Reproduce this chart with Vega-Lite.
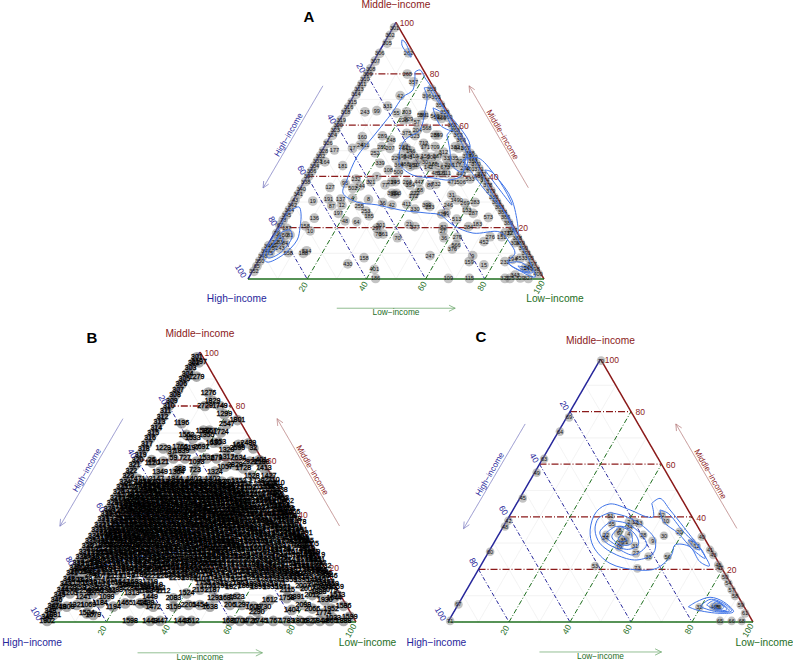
{"$schema":"https://vega.github.io/schema/vega-lite/v6.json","padding":0,"background":"white","spacing":0,"bounds":"flush",
"config":{"view":{"stroke":null},"concat":{"spacing":0}},
"datasets":{
"grid":[
{"g":"m1","k":"minor","x":5,"y":10},{"g":"m1","k":"minor","x":95,"y":10},{"g":"m2","k":"minor","x":15,"y":30},{"g":"m2","k":"minor","x":85,"y":30},{"g":"m3","k":"minor","x":25,"y":50},{"g":"m3","k":"minor","x":75,"y":50},{"g":"m4","k":"minor","x":35,"y":70},{"g":"m4","k":"minor","x":65,"y":70},{"g":"m5","k":"minor","x":45,"y":90},{"g":"m5","k":"minor","x":55,"y":90},
{"g":"l1","k":"minor","x":10,"y":0},{"g":"l1","k":"minor","x":55,"y":90},{"g":"l2","k":"minor","x":30,"y":0},{"g":"l2","k":"minor","x":65,"y":70},{"g":"l3","k":"minor","x":50,"y":0},{"g":"l3","k":"minor","x":75,"y":50},{"g":"l4","k":"minor","x":70,"y":0},{"g":"l4","k":"minor","x":85,"y":30},{"g":"l5","k":"minor","x":90,"y":0},{"g":"l5","k":"minor","x":95,"y":10},
{"g":"h1","k":"minor","x":45,"y":90},{"g":"h1","k":"minor","x":90,"y":0},{"g":"h2","k":"minor","x":35,"y":70},{"g":"h2","k":"minor","x":70,"y":0},{"g":"h3","k":"minor","x":25,"y":50},{"g":"h3","k":"minor","x":50,"y":0},{"g":"h4","k":"minor","x":15,"y":30},{"g":"h4","k":"minor","x":30,"y":0},{"g":"h5","k":"minor","x":5,"y":10},{"g":"h5","k":"minor","x":10,"y":0},
{"g":"M1","k":"mid","x":10,"y":20},{"g":"M1","k":"mid","x":90,"y":20},{"g":"M2","k":"mid","x":20,"y":40},{"g":"M2","k":"mid","x":80,"y":40},{"g":"M3","k":"mid","x":30,"y":60},{"g":"M3","k":"mid","x":70,"y":60},{"g":"M4","k":"mid","x":40,"y":80},{"g":"M4","k":"mid","x":60,"y":80},
{"g":"H1","k":"high","x":40,"y":80},{"g":"H1","k":"high","x":80,"y":0},{"g":"H2","k":"high","x":30,"y":60},{"g":"H2","k":"high","x":60,"y":0},{"g":"H3","k":"high","x":20,"y":40},{"g":"H3","k":"high","x":40,"y":0},{"g":"H4","k":"high","x":10,"y":20},{"g":"H4","k":"high","x":20,"y":0},
{"g":"L1","k":"low","x":20,"y":0},{"g":"L1","k":"low","x":60,"y":80},{"g":"L2","k":"low","x":40,"y":0},{"g":"L2","k":"low","x":70,"y":60},{"g":"L3","k":"low","x":60,"y":0},{"g":"L3","k":"low","x":80,"y":40},{"g":"L4","k":"low","x":80,"y":0},{"g":"L4","k":"low","x":90,"y":20},
{"g":"E1","k":"edgeHigh","x":0,"y":0},{"g":"E1","k":"edgeHigh","x":50,"y":100},{"g":"E2","k":"edgeMid","x":50,"y":100},{"g":"E2","k":"edgeMid","x":100,"y":0},{"g":"E3","k":"edgeLow","x":0,"y":0},{"g":"E3","k":"edgeLow","x":100,"y":0},
{"g":"A1","k":"arrowHigh","x":25.3,"y":75.3},{"g":"A1","k":"arrowHigh","x":5.1,"y":35.5},{"g":"A1","k":"arrowHigh","x":7,"y":37},{"g":"A1b","k":"arrowHigh","x":5.1,"y":35.5},{"g":"A1b","k":"arrowHigh","x":5.3,"y":38.2},
{"g":"A2","k":"arrowMid","x":94.7,"y":35.6},{"g":"A2","k":"arrowMid","x":74.7,"y":75.3},{"g":"A2","k":"arrowMid","x":76.6,"y":73.8},{"g":"A2b","k":"arrowMid","x":74.7,"y":75.3},{"g":"A2b","k":"arrowMid","x":74.9,"y":72.6},
{"g":"A3","k":"arrowLow","x":30,"y":-11.4},{"g":"A3","k":"arrowLow","x":70,"y":-11.4},{"g":"A3","k":"arrowLow","x":67.9,"y":-10.2},{"g":"A3b","k":"arrowLow","x":70,"y":-11.4},{"g":"A3b","k":"arrowLow","x":67.9,"y":-12.6}
],
"frame":[
{"x":53.7,"y":99.8,"t":"100","k":"tickMid"},{"x":63,"y":79.9,"t":"80","k":"tickMid"},{"x":73,"y":59.6,"t":"60","k":"tickMid"},{"x":83,"y":39.7,"t":"40","k":"tickMid"},{"x":93,"y":19.9,"t":"20","k":"tickMid"},
{"x":38.2,"y":82.3,"t":"20","k":"tickHigh"},{"x":28.3,"y":62.4,"t":"40","k":"tickHigh"},{"x":18.2,"y":42.5,"t":"60","k":"tickHigh"},{"x":8.4,"y":22.6,"t":"80","k":"tickHigh"},{"x":-2.4,"y":3.1,"t":"100","k":"tickHigh"},
{"x":18.6,"y":-3.1,"t":"20","k":"tickLow"},{"x":38.9,"y":-2.8,"t":"40","k":"tickLow"},{"x":58.8,"y":-2.8,"t":"60","k":"tickLow"},{"x":79,"y":-2.8,"t":"80","k":"tickLow"},{"x":98.3,"y":-3.2,"t":"100","k":"tickLow"},
{"x":50,"y":106.8,"t":"Middle−income","k":"cornerMid"},{"x":-3.8,"y":-7.8,"t":"High−income","k":"cornerHigh"},{"x":103.7,"y":-7.8,"t":"Low−income","k":"cornerLow"},
{"x":13.9,"y":56.1,"t":"High−income","k":"arrowHigh"},{"x":85.8,"y":56.1,"t":"Middle−income","k":"arrowMid"},{"x":50,"y":-13.3,"t":"Low−income","k":"arrowLow"}
],
"contA":[
{"g":"a1","x":56.4,"y":80.7},{"g":"a1","x":55.7,"y":73.7},{"g":"a1","x":52.4,"y":71},{"g":"a1","x":48.6,"y":64.7},{"g":"a1","x":42.2,"y":55.4},{"g":"a1","x":36.8,"y":47.6},{"g":"a1","x":33.4,"y":38.6},{"g":"a1","x":32.1,"y":33.5},{"g":"a1","x":36.8,"y":30},{"g":"a1","x":43.6,"y":28.9},{"g":"a1","x":51.4,"y":26.9},{"g":"a1","x":60.5,"y":25.7},{"g":"a1","x":64.9,"y":25},{"g":"a1","x":69.3,"y":21},{"g":"a1","x":76,"y":17.9},{"g":"a1","x":85.1,"y":18.3},{"g":"a1","x":88.5,"y":14},{"g":"a1","x":90.2,"y":10.1},{"g":"a1","x":87.8,"y":6.6},{"g":"a1","x":92.6,"y":2.7},{"g":"a1","x":97,"y":0.8},{"g":"a1","x":95.3,"y":6.6},{"g":"a1","x":91.2,"y":15.2},{"g":"a1","x":87.2,"y":25},{"g":"a1","x":81.8,"y":34.7},{"g":"a1","x":75,"y":50.3},{"g":"a1","x":68.2,"y":62.8},{"g":"a1","x":61.5,"y":75.6},{"g":"a1","x":59.8,"y":78.4},{"g":"a1","x":58.1,"y":81.5},{"g":"a1","x":56.4,"y":80.7},
{"g":"a2","x":59.5,"y":74.5},{"g":"a2","x":60.5,"y":71},{"g":"a2","x":59.8,"y":65.9},{"g":"a2","x":58.1,"y":58.1},{"g":"a2","x":53,"y":54.2},{"g":"a2","x":51,"y":48.3},{"g":"a2","x":51.4,"y":44.4},{"g":"a2","x":55.7,"y":40.5},{"g":"a2","x":62.5,"y":39.4},{"g":"a2","x":68.2,"y":38.6},{"g":"a2","x":72.3,"y":40.5},{"g":"a2","x":73.3,"y":46.4},{"g":"a2","x":75,"y":52.2},{"g":"a2","x":66.6,"y":65.9},{"g":"a2","x":63.2,"y":70.6},{"g":"a2","x":60.8,"y":74.5},{"g":"a2","x":59.5,"y":74.5},
{"g":"a3","x":62.5,"y":66.7},{"g":"a3","x":64.9,"y":60},{"g":"a3","x":68.9,"y":58},{"g":"a3","x":66.6,"y":63.9},{"g":"a3","x":62.5,"y":66.7},
{"g":"a4","x":67.2,"y":56.1},{"g":"a4","x":68.2,"y":50.3},{"g":"a4","x":68.9,"y":44.4},{"g":"a4","x":72.3,"y":41.7},{"g":"a4","x":74.3,"y":46.4},{"g":"a4","x":71.6,"y":54.2},{"g":"a4","x":68.9,"y":58},{"g":"a4","x":67.2,"y":56.1},
{"g":"a5","x":72.6,"y":46.4},{"g":"a5","x":80,"y":34.7},{"g":"a5","x":87.5,"y":25},{"g":"a5","x":91.2,"y":17.2},{"g":"a5","x":89.2,"y":30.8},{"g":"a5","x":83.4,"y":40.5},{"g":"a5","x":77.7,"y":47.2},{"g":"a5","x":72.6,"y":46.4},
{"g":"a6","x":80,"y":42.5},{"g":"a6","x":85.1,"y":34.7},{"g":"a6","x":89.2,"y":28.8},{"g":"a6","x":86.8,"y":34.7},{"g":"a6","x":82.4,"y":41.7},{"g":"a6","x":80,"y":42.5},
{"g":"a7","x":52,"y":93.2},{"g":"a7","x":53,"y":92.4},{"g":"a7","x":55.1,"y":86.5},{"g":"a7","x":53.7,"y":88.1},{"g":"a7","x":52,"y":91.2},{"g":"a7","x":52,"y":93.2},
{"g":"a8","x":13.2,"y":25.7},{"g":"a8","x":17.2,"y":28.1},{"g":"a8","x":17.9,"y":25.7},{"g":"a8","x":17.6,"y":20.3},{"g":"a8","x":16.6,"y":15.2},{"g":"a8","x":11.8,"y":9.4},{"g":"a8","x":6.4,"y":6.6},{"g":"a8","x":5.1,"y":8.6},{"g":"a8","x":6.4,"y":12.5},{"g":"a8","x":10.8,"y":20.3},{"g":"a8","x":13.2,"y":25.7},
{"g":"a9","x":11.5,"y":18.3},{"g":"a9","x":14.2,"y":19.1},{"g":"a9","x":14.9,"y":16.4},{"g":"a9","x":10.8,"y":10.1},{"g":"a9","x":6.8,"y":8.2},{"g":"a9","x":6.1,"y":9.4},{"g":"a9","x":8.1,"y":13.3},{"g":"a9","x":11.5,"y":18.3},
{"g":"a10","x":10.8,"y":16.8},{"g":"a10","x":11.8,"y":15.2},{"g":"a10","x":9.1,"y":11.3},{"g":"a10","x":7.4,"y":9.4},{"g":"a10","x":6.8,"y":10.5},{"g":"a10","x":9.1,"y":14.4},{"g":"a10","x":10.8,"y":16.8},
{"g":"a11","x":87.8,"y":6.2},{"g":"a11","x":91.9,"y":6.6},{"g":"a11","x":96.3,"y":2.7},{"g":"a11","x":94.6,"y":2.3},{"g":"a11","x":90.2,"y":4.3},{"g":"a11","x":87.8,"y":6.2},
{"g":"a12","x":91.2,"y":5.1},{"g":"a12","x":93.6,"y":4.3},{"g":"a12","x":95.3,"y":2.7},{"g":"a12","x":92.6,"y":3.5},{"g":"a12","x":91.2,"y":5.1}
],
"contB":[
{"g":"b1","x":16.3,"y":19.3},{"g":"b1","x":21.2,"y":21.7},{"g":"b1","x":30.8,"y":24.2},{"g":"b1","x":40.4,"y":25.4},{"g":"b1","x":46.8,"y":27.9},{"g":"b1","x":48.4,"y":32.2},{"g":"b1","x":44.7,"y":35.3},{"g":"b1","x":39.3,"y":37.8},{"g":"b1","x":32.9,"y":40.3},{"g":"b1","x":26.5,"y":38.4},{"g":"b1","x":20.1,"y":32.8},{"g":"b1","x":16.9,"y":25.4},{"g":"b1","x":16.3,"y":19.3}
],
"contC":[
{"g":"c1","x":66.8,"y":45.1},{"g":"c1","x":69.5,"y":47},{"g":"c1","x":72.8,"y":42.6},{"g":"c1","x":77.2,"y":36.2},{"g":"c1","x":83.7,"y":26.1},{"g":"c1","x":85.7,"y":21.3},{"g":"c1","x":82.6,"y":22.9},{"g":"c1","x":79.3,"y":28.6},{"g":"c1","x":74.4,"y":29.3},{"g":"c1","x":73.3,"y":25.5},{"g":"c1","x":68.4,"y":20.4},{"g":"c1","x":61.9,"y":19.8},{"g":"c1","x":53.1,"y":22.3},{"g":"c1","x":47.7,"y":28.6},{"g":"c1","x":46.6,"y":35},{"g":"c1","x":48.7,"y":42},{"g":"c1","x":53.1,"y":44.9},{"g":"c1","x":59.7,"y":42.6},{"g":"c1","x":65.1,"y":40},{"g":"c1","x":67.3,"y":40},{"g":"c1","x":66.8,"y":45.1},
{"g":"c2","x":53.1,"y":41.6},{"g":"c2","x":58.6,"y":40},{"g":"c2","x":64.1,"y":36.3},{"g":"c2","x":67.9,"y":31.2},{"g":"c2","x":67.3,"y":26.1},{"g":"c2","x":61.9,"y":23.6},{"g":"c2","x":55.3,"y":25.5},{"g":"c2","x":49.8,"y":29.9},{"g":"c2","x":48.2,"y":35},{"g":"c2","x":49.3,"y":39.4},{"g":"c2","x":53.1,"y":41.6},
{"g":"c3","x":53.7,"y":38.5},{"g":"c3","x":58.6,"y":37.5},{"g":"c3","x":63,"y":33.7},{"g":"c3","x":65.1,"y":29.3},{"g":"c3","x":60.8,"y":25.5},{"g":"c3","x":56.4,"y":27.4},{"g":"c3","x":51.5,"y":30.5},{"g":"c3","x":49.8,"y":34.3},{"g":"c3","x":53.7,"y":38.5},
{"g":"c4","x":54.8,"y":36.3},{"g":"c4","x":58.6,"y":36},{"g":"c4","x":61.9,"y":32.4},{"g":"c4","x":62.4,"y":29.3},{"g":"c4","x":58.6,"y":27.6},{"g":"c4","x":54.2,"y":29.9},{"g":"c4","x":51.5,"y":33.1},{"g":"c4","x":54.8,"y":36.3},
{"g":"c5","x":56.4,"y":36.3},{"g":"c5","x":59.7,"y":34.4},{"g":"c5","x":60.2,"y":29.9},{"g":"c5","x":56.9,"y":29.3},{"g":"c5","x":53.7,"y":32.4},{"g":"c5","x":56.4,"y":36.3},
{"g":"c6","x":56.9,"y":33.1},{"g":"c6","x":58.6,"y":31.2},{"g":"c6","x":56.9,"y":30.5},{"g":"c6","x":55.8,"y":31.8},{"g":"c6","x":56.9,"y":33.1},
{"g":"c7","x":69.5,"y":42.6},{"g":"c7","x":72.2,"y":41.3},{"g":"c7","x":77.2,"y":34.3},{"g":"c7","x":83.2,"y":27.4},{"g":"c7","x":84.3,"y":24.2},{"g":"c7","x":80.4,"y":27.4},{"g":"c7","x":75.5,"y":33.7},{"g":"c7","x":70.6,"y":38.2},{"g":"c7","x":69.5,"y":42.6},
{"g":"c8","x":78.8,"y":31.2},{"g":"c8","x":81.5,"y":29.9},{"g":"c8","x":82.6,"y":27.4},{"g":"c8","x":80.4,"y":28.6},{"g":"c8","x":78.8,"y":31.2},
{"g":"c9","x":78.8,"y":5.8},{"g":"c9","x":81.5,"y":7.7},{"g":"c9","x":85.9,"y":9.4},{"g":"c9","x":90.3,"y":7.7},{"g":"c9","x":93.6,"y":3.9},{"g":"c9","x":89.2,"y":3.3},{"g":"c9","x":81.5,"y":4.6},{"g":"c9","x":78.8,"y":5.8},
{"g":"c10","x":82.6,"y":5.8},{"g":"c10","x":85.9,"y":8.6},{"g":"c10","x":90.3,"y":7.1},{"g":"c10","x":93,"y":4.2},{"g":"c10","x":88.1,"y":3.9},{"g":"c10","x":82.6,"y":5.8},
{"g":"c11","x":84.8,"y":6.5},{"g":"c11","x":87,"y":8.1},{"g":"c11","x":90.3,"y":6.5},{"g":"c11","x":92.2,"y":4.3},{"g":"c11","x":88.1,"y":4.3},{"g":"c11","x":84.8,"y":6.5},
{"g":"c12","x":86.5,"y":6.5},{"g":"c12","x":88.1,"y":7.7},{"g":"c12","x":90.8,"y":5.8},{"g":"c12","x":91.4,"y":4.6},{"g":"c12","x":88.1,"y":4.8},{"g":"c12","x":86.5,"y":6.5},
{"g":"c13","x":87.5,"y":6.3},{"g":"c13","x":89,"y":7},{"g":"c13","x":90.4,"y":5.6},{"g":"c13","x":89.8,"y":4.9},{"g":"c13","x":88.1,"y":5.1},{"g":"c13","x":87.5,"y":6.3}
],
"ptsC":[
{"x":53.3,"y":40.3,"t":51},{"x":53.7,"y":37.3,"t":55},{"x":51.8,"y":33.1,"t":22},{"x":51.5,"y":31.8,"t":24},{"x":56.4,"y":35,"t":8},{"x":59.3,"y":33.3,"t":4},{"x":55.8,"y":33.7,"t":6},{"x":57,"y":31.2,"t":3},{"x":58,"y":31.2,"t":5},{"x":56.6,"y":29.9,"t":29},{"x":58.6,"y":30.5,"t":1},{"x":56.1,"y":28.4,"t":19},{"x":61.3,"y":28.9,"t":31},{"x":61.6,"y":26.1,"t":27},{"x":65.7,"y":24.9,"t":38},{"x":64,"y":33.1,"t":28},{"x":67.1,"y":30.9,"t":9},{"x":70.8,"y":32.8,"t":30},{"x":62.7,"y":37.5,"t":13},{"x":59.3,"y":38.1,"t":2},{"x":59.5,"y":36.2,"t":34},{"x":61.3,"y":38.1,"t":12},{"x":70.1,"y":40.7,"t":52},{"x":71.5,"y":38.5,"t":10},{"x":75.9,"y":34.3,"t":20},{"x":79.9,"y":30.2,"t":7},{"x":81.5,"y":28.9,"t":12},{"x":72,"y":24.9,"t":56},{"x":48.2,"y":21.3,"t":53},{"x":62.1,"y":20.4,"t":73},
{"x":13.8,"y":26.7,"t":60},{"x":3.4,"y":6.7,"t":67},{"x":19.8,"y":38.5,"t":42},{"x":18.7,"y":36.3,"t":48},{"x":24.5,"y":47,"t":45},{"x":50.2,"y":99.4,"t":70},{"x":39.7,"y":77.8,"t":69},{"x":36.7,"y":72.4,"t":64},{"x":31.5,"y":62,"t":63},{"x":29.1,"y":56.8,"t":49},
{"x":83.2,"y":32.4,"t":40},{"x":85.9,"y":27.4,"t":41},{"x":87,"y":25.5,"t":43},{"x":88.6,"y":21.7,"t":46},{"x":89.2,"y":20.4,"t":47},{"x":90.8,"y":17.2,"t":50},{"x":91.9,"y":14.7,"t":54},{"x":93,"y":12.2,"t":57},{"x":94.1,"y":9.9,"t":58},{"x":96,"y":6.5,"t":59},{"x":97.4,"y":3.3,"t":61},
{"x":89.2,"y":0.4,"t":65},{"x":93,"y":0.4,"t":66},{"x":96.3,"y":0.4,"t":68},{"x":0.7,"y":0.4,"t":71},{"x":87,"y":5.8,"t":44},{"x":88.1,"y":5.8,"t":35},{"x":88.6,"y":5.8,"t":36},{"x":82.4,"y":5.6,"t":32}
],
"ptsA":[
{"x":54.2,"y":88.2,"t":262},{"x":53.8,"y":79.9,"t":268},{"x":55.9,"y":76.9,"t":357},{"x":51.4,"y":71.5,"t":42},{"x":60.4,"y":71.5,"t":396},{"x":39.5,"y":65.2,"t":243},{"x":43.5,"y":65.6,"t":99},{"x":47.2,"y":67.4,"t":331},{"x":53.6,"y":65.2,"t":303},{"x":50.2,"y":64.8,"t":55},{"x":52.5,"y":62,"t":228},{"x":54.2,"y":62.3,"t":229},{"x":57,"y":61.1,"t":57},{"x":58.7,"y":63.9,"t":588},{"x":59.5,"y":63.9,"t":561},{"x":63.2,"y":63.5,"t":540},{"x":64.3,"y":63.3,"t":512},{"x":65.4,"y":62.6,"t":466},{"x":60.4,"y":58.7,"t":568},{"x":57.2,"y":58.1,"t":204},{"x":53.6,"y":56.8,"t":375},{"x":56.4,"y":55.9,"t":523},{"x":63.2,"y":56.1,"t":285},{"x":64.3,"y":56.1,"t":349},{"x":38.6,"y":55.5,"t":160},{"x":45.4,"y":55.8,"t":289},{"x":48.3,"y":54.2,"t":248},{"x":29.2,"y":50.3,"t":177},{"x":35.3,"y":50.9,"t":17},{"x":37.9,"y":52.2,"t":24},{"x":39.5,"y":52.2,"t":411},{"x":42.9,"y":49.2,"t":252},{"x":45.2,"y":51.6,"t":281},{"x":48,"y":50.9,"t":207},{"x":52.5,"y":51.6,"t":222},{"x":53.6,"y":51,"t":511},{"x":55,"y":50,"t":146},{"x":59.3,"y":52.9,"t":712},{"x":59.9,"y":51.6,"t":171},{"x":63.2,"y":51.6,"t":709},{"x":70,"y":51.6,"t":382},{"x":71.2,"y":51,"t":441},{"x":67.1,"y":47,"t":33},{"x":69.4,"y":47,"t":335},{"x":26,"y":45.7,"t":164},{"x":32,"y":44.2,"t":181},{"x":44.6,"y":45.1,"t":339},{"x":47.4,"y":42.5,"t":108},{"x":50.8,"y":41.8,"t":500},{"x":54.8,"y":43.8,"t":5},{"x":55.9,"y":44.4,"t":351},{"x":59.8,"y":45.7,"t":30},{"x":64.3,"y":44.4,"t":1},{"x":66.6,"y":43.8,"t":673},{"x":63.6,"y":41.4,"t":481},{"x":65.4,"y":41.2,"t":521},{"x":67,"y":41.2,"t":611},{"x":70.5,"y":44.4,"t":117},{"x":73.3,"y":43.1,"t":278},
{"x":50,"y":47,"t":224},{"x":52,"y":48,"t":298},{"x":54,"y":47.5,"t":343},{"x":56,"y":48,"t":410},{"x":58,"y":47,"t":74},{"x":60,"y":48,"t":156},{"x":62,"y":47.5,"t":209},{"x":64,"y":48,"t":267},{"x":66,"y":49.5,"t":312},{"x":51,"y":44.5,"t":364},{"x":53,"y":45,"t":488},{"x":57,"y":44.6,"t":97},{"x":61,"y":43.6,"t":142},{"x":62.5,"y":44.8,"t":188},{"x":68,"y":44.5,"t":236},{"x":72,"y":46,"t":292},{"x":74,"y":48,"t":317},{"x":76,"y":46,"t":358},{"x":75,"y":43,"t":401},{"x":72,"y":41,"t":442},{"x":69,"y":38,"t":471},{"x":72,"y":38,"t":506},{"x":75,"y":39,"t":533},{"x":78,"y":40,"t":555},
{"x":27.7,"y":35.7,"t":127},{"x":32.8,"y":37.3,"t":95},{"x":35.4,"y":35.3,"t":502},{"x":36.5,"y":38.9,"t":232},{"x":37.9,"y":36.3,"t":244},{"x":41.5,"y":37.9,"t":321},{"x":43.5,"y":39.9,"t":7},{"x":46.3,"y":36.7,"t":77},{"x":48.6,"y":37.9,"t":239},{"x":49.8,"y":38,"t":245},{"x":54.8,"y":36.6,"t":354},{"x":53.8,"y":37.8,"t":264},{"x":57.8,"y":37.9,"t":447},{"x":61.5,"y":36.6,"t":87},{"x":63.5,"y":37,"t":732},{"x":58.1,"y":34.7,"t":58},{"x":56.4,"y":33.4,"t":272},{"x":55.9,"y":32.4,"t":172},{"x":48.6,"y":33.4,"t":392},{"x":50.2,"y":33.4,"t":393},{"x":49.6,"y":33,"t":394},{"x":68.8,"y":32.7,"t":31},{"x":70.5,"y":30.8,"t":1490},{"x":67.7,"y":28.8,"t":246},{"x":73.3,"y":29.5,"t":269},{"x":76.7,"y":29.9,"t":283},{"x":73.9,"y":26.9,"t":133},{"x":76.1,"y":25.6,"t":287},{"x":66.9,"y":25.8,"t":46},{"x":65.4,"y":25.3,"t":429},{"x":70.5,"y":23.3,"t":513},{"x":74.5,"y":20.4,"t":284},{"x":77.5,"y":21.4,"t":183},{"x":81.2,"y":24,"t":573},{"x":53.6,"y":29.1,"t":411},{"x":60.4,"y":28.8,"t":399},{"x":61.4,"y":28.2,"t":253},{"x":56.4,"y":27.2,"t":330},{"x":48.6,"y":28.8,"t":42},{"x":45.5,"y":29.8,"t":36},{"x":40.7,"y":31,"t":8},{"x":35.3,"y":31.5,"t":4},{"x":31.3,"y":31.1,"t":137},{"x":31.7,"y":28.8,"t":12},{"x":28.3,"y":28.6,"t":87},{"x":27.2,"y":31.2,"t":191},{"x":21.9,"y":30.4,"t":19},{"x":22.4,"y":23.7,"t":136},{"x":30.5,"y":25.6,"t":197},{"x":32.8,"y":22.7,"t":48},{"x":36.7,"y":22.4,"t":64},{"x":37.6,"y":28.5,"t":255},{"x":39.8,"y":26.5,"t":253},{"x":40.9,"y":24.6,"t":185},{"x":44.8,"y":21,"t":301},{"x":43.5,"y":19.8,"t":297},{"x":44,"y":17.5,"t":76},{"x":45.7,"y":17.5,"t":361},{"x":54.4,"y":21.3,"t":21},{"x":56.4,"y":20.4,"t":377},{"x":66,"y":20.4,"t":82},{"x":65.8,"y":18.7,"t":27},{"x":50.5,"y":16.1,"t":70},{"x":66.2,"y":16.1,"t":36},{"x":70.7,"y":16.2,"t":276},{"x":70.3,"y":13.3,"t":566},{"x":69,"y":11.7,"t":376},{"x":75.9,"y":9.1,"t":9},{"x":74.7,"y":6.8,"t":159},{"x":79.7,"y":5.5,"t":15},{"x":61.5,"y":9.1,"t":247},{"x":39.2,"y":8.3,"t":158},{"x":33.7,"y":5.9,"t":430},{"x":42.7,"y":3.8,"t":401},{"x":43.1,"y":0.2,"t":186},{"x":67.7,"y":0.2,"t":109},{"x":74.8,"y":0.2,"t":115},{"x":86.8,"y":0.2,"t":322},{"x":88.5,"y":0.2,"t":325},{"x":94.7,"y":0.2,"t":327},{"x":90.2,"y":1.5,"t":343},{"x":92,"y":0.4,"t":329},{"x":81.8,"y":16.5,"t":276},{"x":85.7,"y":16.5,"t":151},{"x":79.7,"y":14.6,"t":452},{"x":86.8,"y":18,"t":373},{"x":88.5,"y":18,"t":12},{"x":90.2,"y":14.2,"t":304},{"x":86.8,"y":6.8,"t":232},{"x":89.4,"y":7.7,"t":194},{"x":91.9,"y":8,"t":453},{"x":93.6,"y":4.2,"t":254},{"x":94.7,"y":4.2,"t":255},{"x":19.8,"y":11,"t":534},{"x":18.7,"y":10,"t":188},{"x":13.6,"y":10.3,"t":558},{"x":19.3,"y":20.7,"t":158},{"x":21,"y":18.8,"t":10},{"x":15.9,"y":30.8,"t":43},{"x":3,"y":5,"t":65},{"x":13.1,"y":19.7,"t":187},{"x":10.8,"y":21,"t":67},{"x":12.5,"y":17.2,"t":50},{"x":10.3,"y":16.5,"t":71},{"x":9.1,"y":14.6,"t":72},{"x":10.8,"y":12,"t":243},{"x":8,"y":12,"t":73},{"x":7.4,"y":10,"t":75},{"x":11.9,"y":23,"t":78},{"x":9.7,"y":17.8,"t":79},{"x":14.2,"y":17.2,"t":81},{"x":10.8,"y":14.6,"t":83},{"x":12.5,"y":13.9,"t":84},{"x":8.6,"y":13.3,"t":85},
{"x":49.5,"y":98,"t":301},{"x":48,"y":95,"t":302},{"x":47,"y":92,"t":305},{"x":44.5,"y":88,"t":306},{"x":43,"y":85,"t":307},{"x":41.5,"y":82,"t":308},{"x":40.5,"y":80,"t":309},{"x":39.5,"y":78,"t":310},{"x":38.5,"y":76,"t":311},{"x":37.5,"y":74,"t":313},{"x":36.5,"y":72,"t":314},{"x":35.2,"y":69,"t":315},{"x":34,"y":67,"t":316},{"x":33,"y":65,"t":318},{"x":31.5,"y":62,"t":319},{"x":30.5,"y":60,"t":320},{"x":29.5,"y":58,"t":323},{"x":28.5,"y":56,"t":324},{"x":27,"y":53,"t":326},{"x":25.5,"y":50,"t":328},{"x":24.5,"y":48,"t":332},{"x":23.5,"y":46,"t":333},{"x":22.5,"y":44,"t":334},{"x":21.5,"y":42,"t":336},{"x":20.5,"y":40,"t":337},{"x":19.5,"y":38,"t":338},{"x":18,"y":35,"t":340},{"x":17,"y":33,"t":341},{"x":15,"y":29,"t":342},{"x":14,"y":27,"t":344},{"x":13,"y":25,"t":345},{"x":7,"y":13,"t":346},{"x":6,"y":11,"t":347},{"x":5,"y":9,"t":348},{"x":4,"y":7,"t":350},{"x":2,"y":3,"t":352},
{"x":62,"y":74,"t":353},{"x":63.5,"y":71,"t":355},{"x":65,"y":68,"t":356},{"x":66.5,"y":65,"t":359},{"x":67.5,"y":63,"t":360},{"x":69,"y":60,"t":362},{"x":70,"y":58,"t":363},{"x":71,"y":56,"t":365},{"x":72,"y":54,"t":366},{"x":73.5,"y":51,"t":367},{"x":75,"y":49,"t":368},{"x":76,"y":47.5,"t":369},{"x":77,"y":45,"t":370},{"x":78,"y":43,"t":371},{"x":79,"y":41,"t":372},{"x":80,"y":38.5,"t":374},{"x":81,"y":36.5,"t":378},{"x":82,"y":34.5,"t":379},{"x":83,"y":32,"t":380},{"x":84,"y":30,"t":381},{"x":85,"y":28,"t":383},{"x":86,"y":26,"t":384},{"x":87,"y":24,"t":385},{"x":88,"y":22,"t":386},{"x":89.5,"y":19,"t":387},{"x":91,"y":16,"t":388},{"x":92,"y":14,"t":389},{"x":93,"y":12,"t":390},{"x":94,"y":10,"t":391},{"x":95,"y":8,"t":395},{"x":96,"y":6,"t":397},{"x":97,"y":4,"t":398},{"x":98,"y":2,"t":400}
],
"ptsB":[
{"x":52.7,"y":85,"t":1276},{"x":54,"y":81.9,"t":1829},{"x":51.6,"y":80,"t":2729},{"x":56.4,"y":80,"t":1749},{"x":57.8,"y":76.9,"t":1299},{"x":58.6,"y":73.3,"t":2547},{"x":62,"y":74.8,"t":1801},{"x":44.1,"y":73.6,"t":1196},{"x":48.9,"y":90.9,"t":1279},{"x":49.7,"y":96.2,"t":2197},{"x":45.7,"y":69.3,"t":1562},{"x":47.7,"y":68,"t":1533},{"x":51.1,"y":70.9,"t":1587},{"x":53,"y":70.9,"t":1567},{"x":52.1,"y":69.3,"t":1355},{"x":56.7,"y":70.2,"t":1724},{"x":54.3,"y":66.4,"t":1630},{"x":55.9,"y":66.5,"t":1653},{"x":38.2,"y":64.3,"t":1229},{"x":40.9,"y":63.1,"t":37},{"x":43.6,"y":65,"t":1766},{"x":44.1,"y":63.5,"t":1839},{"x":47.3,"y":64.3,"t":2197},{"x":50.5,"y":64.7,"t":2691},{"x":58.5,"y":63.7,"t":1329},{"x":62.3,"y":65.6,"t":161},{"x":62,"y":64.3,"t":2599},{"x":65.5,"y":66.2,"t":2489},{"x":67.1,"y":64.3,"t":32},{"x":34.5,"y":60,"t":26},{"x":34.7,"y":59,"t":1120},{"x":38.2,"y":59.4,"t":121},{"x":41.5,"y":60.6,"t":59},{"x":45.2,"y":60.6,"t":727},{"x":48.9,"y":59.4,"t":1093},{"x":52.1,"y":60.6,"t":1532},{"x":55.3,"y":60.6,"t":679},{"x":58.5,"y":61,"t":1317},{"x":62.3,"y":60.6,"t":2634},{"x":66,"y":59.4,"t":2921},{"x":69.8,"y":59.4,"t":2188},{"x":43.6,"y":56.5,"t":288},{"x":37.2,"y":55.7,"t":1349},{"x":42.5,"y":55.7,"t":1364},{"x":48.4,"y":56.3,"t":723},{"x":54.8,"y":55.7,"t":1324},{"x":58,"y":57.5,"t":1057},{"x":61.2,"y":58.1,"t":2829},{"x":63.9,"y":56.9,"t":1728},{"x":66.6,"y":54.2,"t":1528},{"x":69.8,"y":51.1,"t":1738},{"x":73,"y":52.6,"t":2210},
{"x":30,"y":53,"t":1471},{"x":33,"y":52,"t":1502},{"x":36,"y":53,"t":2147},{"x":39,"y":52,"t":1183},{"x":42,"y":53,"t":1944},{"x":45,"y":52,"t":1266},{"x":48,"y":53,"t":1402},{"x":51,"y":52,"t":1673},{"x":54,"y":53,"t":1402},{"x":57,"y":52,"t":1833},{"x":60,"y":52,"t":2033},{"x":64,"y":51,"t":1752},{"x":27,"y":50,"t":1117},{"x":30,"y":50,"t":2274},{"x":33,"y":49.5,"t":1390},{"x":36,"y":50,"t":1541},{"x":39,"y":49.5,"t":1618},{"x":42,"y":50,"t":2065},{"x":45,"y":49.5,"t":1732},{"x":48,"y":50,"t":1245},{"x":51,"y":49.5,"t":1387},{"x":54,"y":50,"t":2511},{"x":57,"y":49.5,"t":1290},{"x":60,"y":49,"t":1646},{"x":63,"y":48.5,"t":1871},{"x":67,"y":48.5,"t":2102},{"x":72,"y":49,"t":1155},
{"x":26,"y":47,"t":1208},{"x":29,"y":47.5,"t":1325},{"x":32,"y":47,"t":1478},{"x":35,"y":47.5,"t":1556},{"x":38,"y":47,"t":1624},{"x":41,"y":47.5,"t":1719},{"x":44,"y":47,"t":1885},{"x":47,"y":47.5,"t":1933},{"x":50,"y":47,"t":2026},{"x":53,"y":47.5,"t":2158},{"x":56,"y":47,"t":2243},{"x":59,"y":46.5,"t":2317},{"x":62,"y":46,"t":2406},{"x":65,"y":46,"t":2528},{"x":70,"y":46,"t":2611},{"x":74,"y":46.5,"t":2702},
{"x":25,"y":45,"t":1103},{"x":28,"y":44.5,"t":1136},{"x":31,"y":45,"t":1169},{"x":34,"y":44.5,"t":1214},{"x":37,"y":45,"t":1252},{"x":40,"y":44.5,"t":1283},{"x":43,"y":45,"t":1337},{"x":46,"y":44.5,"t":1378},{"x":49,"y":45,"t":1416},{"x":52,"y":44.5,"t":1449},{"x":55,"y":45,"t":1487},{"x":58,"y":44,"t":1523},{"x":61,"y":44,"t":1561},{"x":64,"y":43.5,"t":1598},{"x":68,"y":43.5,"t":1637},{"x":72,"y":44,"t":1676},{"x":76,"y":43.5,"t":1713},
{"x":24,"y":42.5,"t":1755},{"x":27,"y":42,"t":1792},{"x":30,"y":42.5,"t":1828},{"x":33,"y":42,"t":1864},{"x":36,"y":42.5,"t":1901},{"x":39,"y":42,"t":1938},{"x":42,"y":42.5,"t":1977},{"x":45,"y":42,"t":2011},{"x":48,"y":42.5,"t":2049},{"x":51,"y":42,"t":2083},{"x":54,"y":42.5,"t":2121},{"x":57,"y":41.5,"t":2156},{"x":60,"y":41.5,"t":2192},{"x":63,"y":41,"t":2229},{"x":66,"y":41,"t":2264},{"x":70,"y":41,"t":2301},{"x":74,"y":41.5,"t":2338},{"x":77,"y":40.5,"t":2000},
{"x":22,"y":40,"t":1105},{"x":25,"y":39.5,"t":1142},{"x":28,"y":40,"t":1178},{"x":31,"y":39.5,"t":1219},{"x":34,"y":40,"t":1257},{"x":37,"y":39.5,"t":1294},{"x":40,"y":40,"t":1331},{"x":43,"y":39.5,"t":1368},{"x":46,"y":40,"t":1405},{"x":49,"y":39.5,"t":1442},{"x":52,"y":40,"t":1479},{"x":55,"y":39.5,"t":1516},{"x":58,"y":39,"t":1553},{"x":61,"y":39,"t":1590},{"x":65,"y":38.5,"t":1627},{"x":69,"y":38.5,"t":1664},{"x":73,"y":39,"t":1701},{"x":76,"y":39,"t":1822},
{"x":21,"y":37.5,"t":1738},{"x":24,"y":37,"t":1775},{"x":27,"y":37.5,"t":1812},{"x":30,"y":37,"t":1849},{"x":33,"y":37.5,"t":1886},{"x":36,"y":37,"t":1923},{"x":39,"y":37.5,"t":1960},{"x":42,"y":37,"t":1997},{"x":45,"y":37.5,"t":2034},{"x":48,"y":37,"t":2071},{"x":51,"y":37.5,"t":2108},{"x":54,"y":37,"t":2145},{"x":57,"y":36.5,"t":2182},{"x":60,"y":36.5,"t":2219},{"x":63,"y":36,"t":2256},{"x":67,"y":36,"t":2293},{"x":71,"y":36.5,"t":2330},{"x":75,"y":36,"t":2367},{"x":79,"y":36,"t":1111},
{"x":20,"y":35,"t":1123},{"x":23,"y":34.5,"t":1147},{"x":26,"y":35,"t":1171},{"x":29,"y":34.5,"t":1195},{"x":32,"y":35,"t":1223},{"x":35,"y":34.5,"t":1249},{"x":38,"y":35,"t":1273},{"x":41,"y":34.5,"t":1297},{"x":44,"y":35,"t":1321},{"x":47,"y":34.5,"t":1345},{"x":50,"y":35,"t":1369},{"x":53,"y":34.5,"t":1393},{"x":56,"y":34,"t":1417},{"x":59,"y":34,"t":1441},{"x":62,"y":33.5,"t":1465},{"x":66,"y":34,"t":1489},{"x":70,"y":33.5,"t":1513},{"x":74,"y":34,"t":1537},{"x":78,"y":33.5,"t":1561},{"x":81,"y":32,"t":1585},
{"x":19,"y":32.5,"t":1609},{"x":22,"y":32,"t":1633},{"x":25,"y":32.5,"t":1657},{"x":28,"y":32,"t":1681},{"x":31,"y":32.5,"t":1705},{"x":34,"y":32,"t":1729},{"x":37,"y":32.5,"t":1753},{"x":40,"y":32,"t":1777},{"x":43,"y":32.5,"t":1801},{"x":46,"y":32,"t":1825},{"x":49,"y":31.5,"t":1849},{"x":52,"y":31.5,"t":1873},{"x":55,"y":31,"t":1897},{"x":58,"y":31,"t":1921},{"x":61,"y":31,"t":1945},{"x":65,"y":31,"t":1969},{"x":69,"y":31,"t":1993},{"x":73,"y":31.5,"t":2017},{"x":77,"y":31,"t":2041},{"x":82,"y":30,"t":2065},
{"x":18,"y":30,"t":1091},{"x":21,"y":29.5,"t":1127},{"x":24,"y":30,"t":1163},{"x":27,"y":29.5,"t":1199},{"x":30,"y":30,"t":1235},{"x":33,"y":29.5,"t":1271},{"x":36,"y":30,"t":1307},{"x":39,"y":29.5,"t":1343},{"x":42,"y":30,"t":1379},{"x":45,"y":29.5,"t":1415},{"x":48,"y":29,"t":1451},{"x":51,"y":29,"t":1487},{"x":54,"y":28.5,"t":1523},{"x":57,"y":28.5,"t":1559},{"x":60,"y":28.5,"t":1595},{"x":63,"y":28,"t":1631},{"x":67,"y":28.5,"t":1667},{"x":71,"y":28.5,"t":1703},{"x":75,"y":28,"t":1739},{"x":79,"y":28.5,"t":1775},{"x":84,"y":27,"t":1811},
{"x":16,"y":27,"t":2101},{"x":19,"y":27,"t":2137},{"x":22,"y":27.5,"t":2173},{"x":25,"y":27,"t":2209},{"x":28,"y":27.5,"t":2245},{"x":31,"y":27,"t":2281},{"x":34,"y":27.5,"t":2317},{"x":37,"y":27,"t":2353},{"x":40,"y":27,"t":1183},{"x":43,"y":26.5,"t":1219},{"x":46,"y":26.5,"t":1255},{"x":49,"y":26,"t":1291},{"x":52,"y":26,"t":1327},{"x":55,"y":26,"t":1363},{"x":58,"y":25.5,"t":1399},{"x":62,"y":25.5,"t":1435},{"x":66,"y":26,"t":1471},{"x":70,"y":26,"t":1507},{"x":74,"y":25.5,"t":1543},{"x":78,"y":25.5,"t":1579},{"x":82,"y":25,"t":1615},{"x":86,"y":24,"t":1651},
{"x":15,"y":24.5,"t":1687},{"x":18,"y":24,"t":1723},{"x":21,"y":24.5,"t":1759},{"x":24,"y":24,"t":1795},{"x":27,"y":24.5,"t":1831},{"x":30,"y":24,"t":1867},{"x":33,"y":24.5,"t":1903},{"x":36,"y":24,"t":1939},{"x":39,"y":24,"t":1975},{"x":42,"y":23.5,"t":2011},{"x":45,"y":23.5,"t":2047},{"x":48,"y":23,"t":2083},{"x":51,"y":23,"t":2119},{"x":54,"y":23,"t":2155},{"x":57,"y":23,"t":2191},{"x":61,"y":23,"t":2227},{"x":65,"y":23,"t":2263},{"x":69,"y":23,"t":2299},{"x":73,"y":23,"t":2335},{"x":77,"y":22.5,"t":1105},{"x":81,"y":22,"t":1141},{"x":85,"y":22,"t":1177},
{"x":13,"y":21.5,"t":1213},{"x":16,"y":21.5,"t":1249},{"x":19,"y":21,"t":1285},{"x":23,"y":21.5,"t":1321},{"x":26,"y":21,"t":1357},{"x":30,"y":21,"t":1393},{"x":33,"y":21,"t":1429},{"x":36,"y":21,"t":1465},{"x":39,"y":21,"t":1501},{"x":42,"y":20.5,"t":1537},{"x":45,"y":20.5,"t":1573},{"x":48,"y":20,"t":1609},{"x":52,"y":20,"t":1645},{"x":56,"y":20.5,"t":1681},{"x":60,"y":20,"t":1717},{"x":64,"y":20,"t":1753},{"x":68,"y":20,"t":1789},{"x":72,"y":20,"t":1825},{"x":76,"y":19.5,"t":1861},{"x":80,"y":19,"t":1897},{"x":84,"y":19.5,"t":1933},{"x":88,"y":19,"t":1969},
{"x":11,"y":18.5,"t":2005},{"x":14,"y":18.5,"t":2041},{"x":17,"y":18,"t":2077},{"x":21,"y":18,"t":2113},{"x":25,"y":18,"t":2149},{"x":29,"y":18.5,"t":2185},{"x":33,"y":18,"t":2221},{"x":37,"y":18,"t":2257},{"x":41,"y":17.5,"t":2293},{"x":45,"y":17.5,"t":2329},{"x":49,"y":17,"t":1107},{"x":53,"y":17.5,"t":1143},{"x":57,"y":17,"t":1179},{"x":61,"y":17,"t":1215},{"x":65,"y":17.5,"t":1251},{"x":69,"y":17,"t":1287},{"x":73,"y":17,"t":1323},{"x":77,"y":16.5,"t":1359},{"x":81,"y":16.5,"t":1395},{"x":85,"y":16.5,"t":1431},{"x":89,"y":16,"t":1467},
{"x":10,"y":15.5,"t":1503},{"x":13,"y":15.5,"t":1539},{"x":17,"y":15,"t":1575},{"x":21,"y":15.5,"t":1611},{"x":25,"y":15,"t":1647},{"x":29,"y":15,"t":1683},{"x":34,"y":15,"t":1719},{"x":51,"y":14.5,"t":1755},{"x":55,"y":14.5,"t":1791},{"x":59,"y":14,"t":1827},{"x":63,"y":14.5,"t":1863},{"x":67,"y":14,"t":1899},{"x":71,"y":14,"t":1935},{"x":75,"y":14,"t":1971},{"x":83,"y":13.5,"t":2007},{"x":87,"y":14,"t":2043},{"x":90,"y":13,"t":2079},{"x":78,"y":12,"t":2115},{"x":50,"y":12,"t":2151},{"x":54,"y":12,"t":2187},{"x":8,"y":13,"t":2223},{"x":11,"y":12.5,"t":2259},{"x":15,"y":12.5,"t":2295},{"x":19,"y":12.5,"t":2331},{"x":31,"y":12.5,"t":1133},{"x":33,"y":13,"t":1169},
{"x":8.3,"y":10.6,"t":1205},{"x":12.6,"y":9.4,"t":1241},{"x":15.8,"y":10.6,"t":1277},{"x":20.1,"y":9.4,"t":1099},{"x":22.8,"y":11.9,"t":2288},{"x":26,"y":13.7,"t":2284},{"x":28.1,"y":10.6,"t":1313},{"x":22.2,"y":5.7,"t":1194},{"x":26,"y":6.9,"t":1465},{"x":30.8,"y":6.9,"t":1425},{"x":32.9,"y":6.9,"t":1439},{"x":34,"y":9.4,"t":1449},{"x":36.6,"y":12.5,"t":1112},{"x":35,"y":5.7,"t":1472},{"x":41.5,"y":8.8,"t":2083},{"x":41.5,"y":5.7,"t":3159},{"x":45.7,"y":10.6,"t":1524},{"x":46.3,"y":6.3,"t":2205},{"x":50,"y":6.3,"t":1454},{"x":53.2,"y":5.7,"t":1638},{"x":54.8,"y":8.8,"t":1293},{"x":58.6,"y":8.8,"t":1687},{"x":61.8,"y":9.1,"t":1323},{"x":59.6,"y":6.3,"t":206},{"x":63.4,"y":6.3,"t":1297},{"x":67.1,"y":5.7,"t":1609},{"x":70.3,"y":5.7,"t":1730},{"x":68.2,"y":3.8,"t":2290},{"x":72.4,"y":8.2,"t":1612},{"x":77.8,"y":8.8,"t":1758},{"x":81,"y":9.4,"t":2391},{"x":83.1,"y":6.3,"t":2098},{"x":79.4,"y":4.5,"t":1404},{"x":89.5,"y":3.2,"t":1774},{"x":92.7,"y":1.4,"t":1033},{"x":10.5,"y":6.3,"t":1321},{"x":7.3,"y":5.7,"t":1809},{"x":14.2,"y":6.3,"t":1069},{"x":15.8,"y":2.6,"t":1079},{"x":13.7,"y":3.2,"t":1524},{"x":3,"y":2.6,"t":1081},{"x":4.6,"y":5.7,"t":1249},{"x":18,"y":7,"t":1184},{"x":86,"y":10,"t":2012},{"x":90,"y":8,"t":1930},{"x":88,"y":11,"t":1883},{"x":93,"y":9,"t":1644},{"x":86,"y":5,"t":2066},{"x":92,"y":5,"t":1952},
{"x":27.6,"y":0.4,"t":1598},{"x":34,"y":0.4,"t":1443},{"x":37.2,"y":0.4,"t":1447},{"x":44.1,"y":0.4,"t":1443},{"x":47.3,"y":0.4,"t":1512},{"x":59.6,"y":0.4,"t":1681},{"x":62.8,"y":0.4,"t":1704},{"x":66,"y":0.4,"t":1726},{"x":69.2,"y":0.4,"t":1745},{"x":73.5,"y":0.4,"t":1767},{"x":77.8,"y":0.4,"t":1783},{"x":82,"y":0.4,"t":1806},{"x":85.2,"y":0.4,"t":1827},{"x":88.4,"y":0.4,"t":1844},{"x":91.6,"y":0.4,"t":1865},{"x":96,"y":0.4,"t":1888},{"x":1,"y":0.4,"t":1902},
{"x":49,"y":98,"t":301},{"x":48,"y":96,"t":302},{"x":47,"y":94,"t":303},{"x":46,"y":92,"t":304},{"x":45,"y":90,"t":305},{"x":44,"y":88,"t":306},{"x":43,"y":86,"t":307},{"x":42,"y":84,"t":308},{"x":41,"y":82,"t":309},{"x":40,"y":80,"t":310},{"x":39,"y":78,"t":311},{"x":38,"y":76,"t":312},{"x":37,"y":74,"t":313},{"x":36,"y":72,"t":314},{"x":35,"y":70,"t":315},{"x":34,"y":68,"t":316},{"x":33,"y":66,"t":317},{"x":32,"y":64,"t":318},{"x":31,"y":62,"t":319},{"x":30,"y":60,"t":320},{"x":29,"y":58,"t":321},{"x":28,"y":56,"t":322},{"x":27,"y":54,"t":323},{"x":26,"y":52,"t":324},{"x":25,"y":50,"t":325},{"x":24,"y":48,"t":326},{"x":23,"y":46,"t":327},{"x":22,"y":44,"t":328},{"x":21,"y":42,"t":329},{"x":20,"y":40,"t":330},{"x":19,"y":38,"t":331},{"x":18,"y":36,"t":332},{"x":17,"y":34,"t":333},{"x":16,"y":32,"t":334},{"x":15,"y":30,"t":335},{"x":14,"y":28,"t":336},{"x":13,"y":26,"t":337},{"x":12,"y":24,"t":338},{"x":11,"y":22,"t":339},{"x":10,"y":20,"t":340},{"x":9,"y":18,"t":341},{"x":8,"y":16,"t":342},{"x":7,"y":14,"t":343},{"x":6,"y":12,"t":344},{"x":5,"y":10,"t":345},{"x":4,"y":8,"t":346},{"x":3,"y":6,"t":347},{"x":2,"y":4,"t":348},{"x":1,"y":2,"t":349},
{"x":69,"y":60,"t":1401},{"x":70.5,"y":57,"t":1413},{"x":72,"y":54,"t":1427},{"x":74,"y":50,"t":1438},{"x":76,"y":46,"t":1452},{"x":78,"y":42,"t":1466},{"x":80,"y":38,"t":1478},{"x":82,"y":34,"t":1491},{"x":84,"y":30,"t":1505},{"x":86,"y":26,"t":1519},{"x":88,"y":22,"t":1532},{"x":90,"y":18,"t":1546},{"x":92,"y":14,"t":1559},{"x":94,"y":10,"t":1573},{"x":96,"y":6,"t":1586},{"x":98,"y":2,"t":1599}
]
},
"vconcat":[
{"width":793,"height":330,
"encoding":{"x":{"field":"x","type":"quantitative","axis":null,"scale":{"domain":[-83.78,184.12],"nice":false,"zero":false}},"y":{"field":"y","type":"quantitative","axis":null,"scale":{"domain":[-19.88,108.77],"nice":false,"zero":false}}},
"layer":[
{"data":{"name":"grid"},"mark":{"type":"line","order":null},"encoding":{"detail":{"field":"g"},"stroke":{"field":"k","type":"nominal","legend":null,"scale":{"domain":["minor","mid","high","low","edgeMid","edgeHigh","edgeLow","arrowMid","arrowHigh","arrowLow"],"range":["#ececec","#8b1a1a","#27279b","#1e6e1e","#8b1a1a","#27279b","#1e6e1e","#b57a7a","#7a7ac0","#6aa66a"]}},"strokeDash":{"field":"k","type":"nominal","legend":null,"scale":{"domain":["minor","mid","high","low","edgeMid","edgeHigh","edgeLow","arrowMid","arrowHigh","arrowLow"],"range":[[1,0],[7,2,1,2],[4,2,1,2],[5,2,1,2],[1,0],[1,0],[1,0],[1,0],[1,0],[1,0]]}},"strokeWidth":{"field":"k","type":"nominal","legend":null,"scale":{"type":"ordinal","domain":["minor","mid","high","low","edgeMid","edgeHigh","edgeLow","arrowMid","arrowHigh","arrowLow"],"range":[0.7,1.3,1,1,1.5,1.5,1.5,0.8,0.8,0.8]}}}},
{"data":{"name":"ptsA"},"mark":{"type":"circle","size":95,"color":"#7a7a7a","opacity":0.45}},
{"data":{"name":"ptsA"},"mark":{"type":"text","fontSize":5.5,"font":"Liberation Sans","color":"#111111","baseline":"middle"},"encoding":{"text":{"field":"t","type":"nominal"}}},
{"data":{"name":"contA"},"mark":{"type":"line","order":null,"interpolate":"catmull-rom","stroke":"#3f74e8","strokeWidth":1},"encoding":{"detail":{"field":"g"}}},
{"data":{"name":"frame"},"mark":{"type":"text","font":"Liberation Sans","baseline":"middle"},"encoding":{"text":{"field":"t","type":"nominal"},"fill":{"field":"k","type":"nominal","legend":null,"scale":{"domain":["tickMid","tickHigh","tickLow","cornerMid","cornerHigh","cornerLow","arrowMid","arrowHigh","arrowLow"],"range":["#8b1a1a","#27279b","#1e6e1e","#8b1a1a","#27279b","#1e6e1e","#8b1a1a","#27279b","#1e6e1e"]}},"angle":{"field":"k","type":"nominal","legend":null,"scale":{"type":"ordinal","domain":["tickMid","tickHigh","tickLow","cornerMid","cornerHigh","cornerLow","arrowMid","arrowHigh","arrowLow"],"range":[0,60,-60,0,0,0,60,-60,0]}},"size":{"field":"k","type":"nominal","legend":null,"scale":{"type":"ordinal","domain":["tickMid","tickHigh","tickLow","cornerMid","cornerHigh","cornerLow","arrowMid","arrowHigh","arrowLow"],"range":[8.5,8.5,8.5,10.2,10.2,10.2,8.3,8.3,8.3]}}}},
{"data":{"values":[{"x":20.6,"y":102.1,"t":"A"}]},"mark":{"type":"text","font":"Liberation Sans","fontWeight":"bold","fontSize":15,"color":"black","baseline":"middle"},"encoding":{"text":{"field":"t","type":"nominal"}}}
]},
{"spacing":0,"bounds":"flush","hconcat":[
{"width":396,"height":332,
"encoding":{"x":{"field":"x","type":"quantitative","axis":null,"scale":{"domain":[-14.1,112.82],"nice":false,"zero":false}},"y":{"field":"y","type":"quantitative","axis":null,"scale":{"domain":[-14.81,108.15],"nice":false,"zero":false}}},
"layer":[
{"data":{"name":"grid"},"mark":{"type":"line","order":null},"encoding":{"detail":{"field":"g"},"stroke":{"field":"k","type":"nominal","legend":null,"scale":{"domain":["minor","mid","high","low","edgeMid","edgeHigh","edgeLow","arrowMid","arrowHigh","arrowLow"],"range":["#ececec","#8b1a1a","#27279b","#1e6e1e","#8b1a1a","#27279b","#1e6e1e","#b57a7a","#7a7ac0","#6aa66a"]}},"strokeDash":{"field":"k","type":"nominal","legend":null,"scale":{"domain":["minor","mid","high","low","edgeMid","edgeHigh","edgeLow","arrowMid","arrowHigh","arrowLow"],"range":[[1,0],[7,2,1,2],[4,2,1,2],[5,2,1,2],[1,0],[1,0],[1,0],[1,0],[1,0],[1,0]]}},"strokeWidth":{"field":"k","type":"nominal","legend":null,"scale":{"type":"ordinal","domain":["minor","mid","high","low","edgeMid","edgeHigh","edgeLow","arrowMid","arrowHigh","arrowLow"],"range":[0.7,1.3,1,1,1.5,1.5,1.5,0.8,0.8,0.8]}}}},
{"data":{"name":"ptsB"},"mark":{"type":"circle","size":115,"color":"#666666","opacity":0.55}},
{"data":{"name":"contB"},"mark":{"type":"line","order":null,"interpolate":"catmull-rom","stroke":"#3f74e8","strokeWidth":1},"encoding":{"detail":{"field":"g"}}},
{"data":{"name":"ptsB"},"mark":{"type":"text","fontSize":7,"font":"Liberation Sans","color":"#000000","stroke":"#000000","strokeWidth":0.3,"baseline":"middle"},"encoding":{"text":{"field":"t","type":"nominal"}}},
{"data":{"name":"ptsB"},"transform":[{"filter":"datum.y>12 && datum.y<54 && datum.x>datum.y/2+2"}],"mark":{"type":"text","fontSize":7,"font":"Liberation Sans","color":"#000000","stroke":"#000000","strokeWidth":0.3,"baseline":"middle","dx":5,"dy":3},"encoding":{"text":{"field":"t","type":"nominal"}}},
{"data":{"name":"ptsB"},"transform":[{"filter":"datum.y>16 && datum.y<52 && datum.x>datum.y/2+4"}],"mark":{"type":"text","fontSize":7,"font":"Liberation Sans","color":"#000000","stroke":"#000000","strokeWidth":0.3,"baseline":"middle","dx":-5,"dy":-3},"encoding":{"text":{"field":"t","type":"nominal"}}},
{"data":{"name":"frame"},"mark":{"type":"text","font":"Liberation Sans","baseline":"middle"},"encoding":{"text":{"field":"t","type":"nominal"},"fill":{"field":"k","type":"nominal","legend":null,"scale":{"domain":["tickMid","tickHigh","tickLow","cornerMid","cornerHigh","cornerLow","arrowMid","arrowHigh","arrowLow"],"range":["#8b1a1a","#27279b","#1e6e1e","#8b1a1a","#27279b","#1e6e1e","#8b1a1a","#27279b","#1e6e1e"]}},"angle":{"field":"k","type":"nominal","legend":null,"scale":{"type":"ordinal","domain":["tickMid","tickHigh","tickLow","cornerMid","cornerHigh","cornerLow","arrowMid","arrowHigh","arrowLow"],"range":[0,60,-60,0,0,0,60,-60,0]}},"size":{"field":"k","type":"nominal","legend":null,"scale":{"type":"ordinal","domain":["tickMid","tickHigh","tickLow","cornerMid","cornerHigh","cornerLow","arrowMid","arrowHigh","arrowLow"],"range":[8.5,8.5,8.5,10.2,10.2,10.2,8.3,8.3,8.3]}}}},
{"data":{"values":[{"x":15.4,"y":105.2,"t":"B"}]},"mark":{"type":"text","font":"Liberation Sans","fontWeight":"bold","fontSize":15,"color":"black","baseline":"middle"},"encoding":{"text":{"field":"t","type":"nominal"}}}
]},
{"width":397,"height":332,
"encoding":{"x":{"field":"x","type":"quantitative","axis":null,"scale":{"domain":[-17.05,113.11],"nice":false,"zero":false}},"y":{"field":"y","type":"quantitative","axis":null,"scale":{"domain":[-15.21,111.03],"nice":false,"zero":false}}},
"layer":[
{"data":{"name":"grid"},"mark":{"type":"line","order":null},"encoding":{"detail":{"field":"g"},"stroke":{"field":"k","type":"nominal","legend":null,"scale":{"domain":["minor","mid","high","low","edgeMid","edgeHigh","edgeLow","arrowMid","arrowHigh","arrowLow"],"range":["#ececec","#8b1a1a","#27279b","#1e6e1e","#8b1a1a","#27279b","#1e6e1e","#b57a7a","#7a7ac0","#6aa66a"]}},"strokeDash":{"field":"k","type":"nominal","legend":null,"scale":{"domain":["minor","mid","high","low","edgeMid","edgeHigh","edgeLow","arrowMid","arrowHigh","arrowLow"],"range":[[1,0],[7,2,1,2],[4,2,1,2],[5,2,1,2],[1,0],[1,0],[1,0],[1,0],[1,0],[1,0]]}},"strokeWidth":{"field":"k","type":"nominal","legend":null,"scale":{"type":"ordinal","domain":["minor","mid","high","low","edgeMid","edgeHigh","edgeLow","arrowMid","arrowHigh","arrowLow"],"range":[0.7,1.3,1,1,1.5,1.5,1.5,0.8,0.8,0.8]}}}},
{"data":{"name":"ptsC"},"mark":{"type":"circle","size":75,"color":"#7a7a7a","opacity":0.45}},
{"data":{"name":"ptsC"},"mark":{"type":"text","fontSize":5.5,"font":"Liberation Sans","color":"#111111","baseline":"middle"},"encoding":{"text":{"field":"t","type":"nominal"}}},
{"data":{"name":"contC"},"mark":{"type":"line","order":null,"interpolate":"catmull-rom","stroke":"#3f74e8","strokeWidth":1},"encoding":{"detail":{"field":"g"}}},
{"data":{"name":"frame"},"mark":{"type":"text","font":"Liberation Sans","baseline":"middle"},"encoding":{"text":{"field":"t","type":"nominal"},"fill":{"field":"k","type":"nominal","legend":null,"scale":{"domain":["tickMid","tickHigh","tickLow","cornerMid","cornerHigh","cornerLow","arrowMid","arrowHigh","arrowLow"],"range":["#8b1a1a","#27279b","#1e6e1e","#8b1a1a","#27279b","#1e6e1e","#8b1a1a","#27279b","#1e6e1e"]}},"angle":{"field":"k","type":"nominal","legend":null,"scale":{"type":"ordinal","domain":["tickMid","tickHigh","tickLow","cornerMid","cornerHigh","cornerLow","arrowMid","arrowHigh","arrowLow"],"range":[0,60,-60,0,0,0,60,-60,0]}},"size":{"field":"k","type":"nominal","legend":null,"scale":{"type":"ordinal","domain":["tickMid","tickHigh","tickLow","cornerMid","cornerHigh","cornerLow","arrowMid","arrowHigh","arrowLow"],"range":[8.5,8.5,8.5,10.2,10.2,10.2,8.3,8.3,8.3]}}}},
{"data":{"values":[{"x":10.8,"y":108.4,"t":"C"}]},"mark":{"type":"text","font":"Liberation Sans","fontWeight":"bold","fontSize":15,"color":"black","baseline":"middle"},"encoding":{"text":{"field":"t","type":"nominal"}}}
]}
]}
]}
